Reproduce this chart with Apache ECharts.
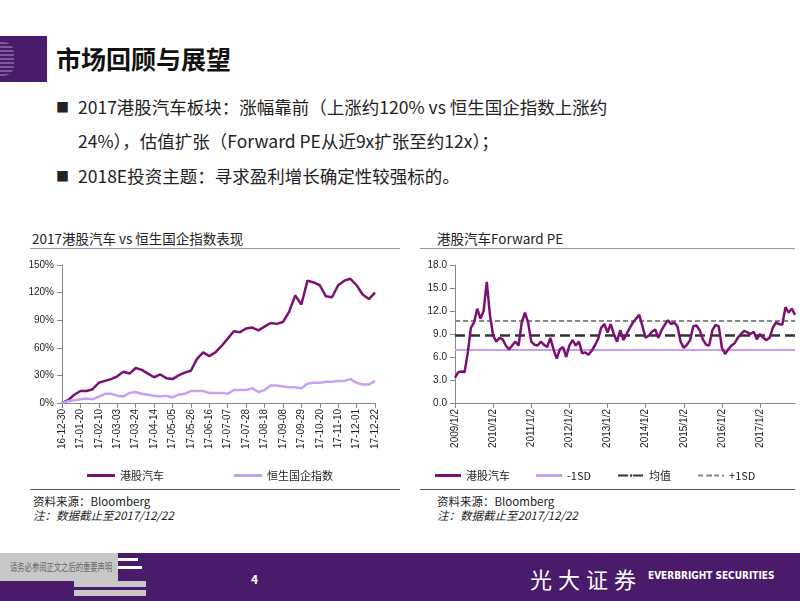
<!DOCTYPE html>
<html lang="zh-CN">
<head>
<meta charset="UTF-8">
<title>市场回顾与展望</title>
<style>
  body { margin:0; width:800px; height:601px; position:relative; overflow:hidden; background:#fff;
    font-family:"Noto Sans CJK SC","Noto Sans",sans-serif; color:#222; }
  .abs { position:absolute; }
  .title { left:56px; top:40px; font-size:25px; font-weight:bold; color:#111; }
  .bullet { left:78px; font-size:17.5px; line-height:34px; color:#222; }
  .bullet span.sq { position:absolute; left:-22px; top:0; font-size:13px; }
  .ctitle { font-size:13.5px; color:#222; }
  .rule { height:1px; background:#999; }
  .src { font-size:11.5px; color:#222; line-height:14px; }
  .footer { left:0; top:553px; width:800px; height:48px; background:#4a1a6b; }
</style>
<script src="https://cdn.jsdelivr.net/npm/echarts@6/dist/echarts.min.js"></script>
</head>
<body>
  <div class="abs" style="left:0;top:36px;width:47px;height:46px;background:#4a1a6b;"></div>
  <div class="abs" style="left:0;top:42px;width:14px;height:34px;background:repeating-linear-gradient(#7a5a98 0 2px,#4a1a6b 2px 4px);border-radius:0 10px 10px 0;"></div>
  <div class="abs title">市场回顾与展望</div>

  <div class="abs bullet" style="top:90px;width:690px;"><span class="sq">■</span>2017港股汽车板块：涨幅靠前（上涨约120% vs 恒生国企指数上涨约<br>24%），估值扩张（Forward PE从近9x扩张至约12x）；</div>
  <div class="abs bullet" style="top:159px;"><span class="sq">■</span>2018E投资主题：寻求盈利增长确定性较强标的。</div>

  <div class="abs ctitle" style="left:32px;top:228px;">2017港股汽车 vs 恒生国企指数表现</div>
  <div class="abs rule" style="left:30px;top:248px;width:370px;"></div>
  <div class="abs ctitle" style="left:437px;top:228px;">港股汽车Forward PE</div>
  <div class="abs rule" style="left:420px;top:248px;width:375px;"></div>

  <div id="left" class="abs" style="left:20px;top:255px;width:380px;height:235px;"></div>
  <div id="right" class="abs" style="left:410px;top:255px;width:390px;height:235px;"></div>

  <div class="abs rule" style="left:30px;top:489px;width:370px;background:#555;"></div>
  <div class="abs rule" style="left:420px;top:489px;width:375px;background:#555;"></div>
  <div class="abs src" style="left:33px;top:494px;">资料来源：Bloomberg<br><i>注：数据截止至2017/12/22</i></div>
  <div class="abs src" style="left:437px;top:494px;">资料来源：Bloomberg<br><i>注：数据截止至2017/12/22</i></div>

  <div class="abs footer"></div>
  <div class="abs" style="left:0;top:553px;width:118px;height:28px;background:#c8c8c8;"></div>
  <div class="abs" style="left:118px;top:558px;width:20px;height:3px;background:#fff;"></div>
  <div class="abs" style="left:118px;top:566px;width:24px;height:3px;background:#fff;"></div>
  <div class="abs" style="left:74px;top:581px;width:72px;height:6px;background:#c8c8c8;"></div>
  <div class="abs" style="left:74px;top:590px;width:72px;height:6px;background:#c8c8c8;"></div>
  <div class="abs" style="left:10px;top:559px;font-size:10px;color:#666;white-space:nowrap;transform:scaleX(0.73);transform-origin:left top;">请务必参阅正文之后的重要声明</div>
  <div class="abs" style="left:251px;top:570px;font-size:12px;color:#fff;font-weight:bold;">4</div>
  <div class="abs" style="left:530px;top:562px;font-size:22px;color:#fff;letter-spacing:6px;font-family:'Noto Sans CJK SC';">光大证券</div>
  <div class="abs" style="left:648px;top:570px;font-size:10px;color:#fff;font-weight:bold;font-family:'DejaVu Sans Condensed','DejaVu Sans';">EVERBRIGHT SECURITIES</div>

<script>
// 左图：2017 周度累计涨幅 (%)
var weeks = ['16-12-30','17-01-06','17-01-13','17-01-20','17-01-27','17-02-03','17-02-10','17-02-17','17-02-24',
  '17-03-03','17-03-10','17-03-17','17-03-24','17-03-31','17-04-07','17-04-14','17-04-21','17-04-28',
  '17-05-05','17-05-12','17-05-19','17-05-26','17-06-02','17-06-09','17-06-16','17-06-23','17-06-30',
  '17-07-07','17-07-14','17-07-21','17-07-28','17-08-04','17-08-11','17-08-18','17-08-25','17-09-01',
  '17-09-08','17-09-15','17-09-22','17-09-29','17-10-06','17-10-13','17-10-20','17-10-27','17-11-03',
  '17-11-10','17-11-17','17-11-24','17-12-01','17-12-08','17-12-15','17-12-22'];
var hkAuto = [0,3,9,13,13,15,22,24,26,29,34,32,38,36,32,28,31,27,26,30,33,35,48,55,51,55,62,70,78,77,
  81,82,79,83,87,86,88,99,117,107,133,131,128,116,115,128,133,135,128,118,113,120];
var hscei = [0,2,3,4,5,4,7,10,10,8,7,11,12,10,9,8,7,8,6,9,10,13,13,13,11,11,11,10,14,14,14,16,12,14,
  19,19,18,17,17,16,21,22,22,23,23,24,24,26,22,20,20,24];

// 右图：月度 Forward PE
var months = [];
for (var y = 2009; y <= 2017; y++) for (var m = 1; m <= 12; m++) months.push(y + '/' + m + '/2');
var pe = [
  3.3,4.0,4.1,4.0,6.5,9.8,10.5,12.3,11.0,12.0,15.8,11.5,
  8.8,8.0,8.5,8.3,7.5,7.0,7.5,8.0,7.5,10.5,11.8,10.5,
  8.0,7.6,7.5,8.0,7.6,7.3,8.5,7.0,5.8,7.0,7.3,6.0,
  7.5,8.2,7.5,8.0,6.5,6.6,6.3,6.8,7.5,8.3,9.8,10.3,
  9.2,10.3,9.0,8.0,9.5,8.2,9.0,9.8,10.5,11.0,11.5,10.0,
  8.5,8.8,9.3,9.6,8.5,9.5,10.2,10.8,10.3,10.5,10.0,8.0,
  7.2,7.6,8.2,10.0,10.1,9.5,8.3,7.6,7.5,9.5,10.2,10.0,
  7.2,6.4,7.0,7.5,7.8,8.5,9.0,9.4,9.2,9.0,9.3,8.3,
  9.0,8.5,8.2,8.5,9.8,10.5,10.3,10.2,12.5,11.8,12.3,11.5];
var peMean = 8.8, peLow = 6.9, peHigh = 10.7;

var axisFont = { fontFamily: 'Liberation Sans, Arial', fontSize: 10, color: '#222' };
var legendFont = { fontFamily: 'Noto Sans CJK SC', fontSize: 11, color: '#222' };

var left = echarts.init(document.getElementById('left'));
left.setOption({
  animation: false,
  grid: { left: 42, right: 25, top: 10, bottom: 87 },
  legend: { bottom: 4, itemGap: 70, itemWidth: 28, itemHeight: 3, icon: 'rect', textStyle: legendFont,
    data: ['港股汽车', '恒生国企指数'] },
  xAxis: { type: 'category', data: weeks, boundaryGap: false,
    axisLine: { lineStyle: { color: '#888' } }, axisTick: { interval: 2, lineStyle: { color: '#888' } },
    axisLabel: Object.assign({ rotate: 90, interval: 2, margin: 6 }, axisFont) },
  yAxis: { type: 'value', min: 0, max: 150, interval: 30,
    axisLine: { show: true, lineStyle: { color: '#888' } }, axisTick: { show: true, lineStyle: { color: '#888' } },
    splitLine: { show: false }, axisLabel: Object.assign({ formatter: '{value}%' }, axisFont) },
  series: [
    { name: '港股汽车', type: 'line', data: hkAuto, symbol: 'none', lineStyle: { width: 2.5, color: '#7b1173' }, itemStyle: { color: '#7b1173' } },
    { name: '恒生国企指数', type: 'line', data: hscei, symbol: 'none', lineStyle: { width: 2.5, color: '#c9a0f0' }, itemStyle: { color: '#c9a0f0' } }
  ]
});

function flat(v) { return months.map(function () { return v; }); }
var right = echarts.init(document.getElementById('right'));
right.setOption({
  animation: false,
  grid: { left: 45, right: 5, top: 10, bottom: 87 },
  legend: { bottom: 4, left: 20, itemGap: 26, itemWidth: 26, itemHeight: 3, textStyle: legendFont,
    data: [{ name: '港股汽车', icon: 'rect' }, { name: '-1SD', icon: 'rect' }, { name: '均值' }, { name: '+1SD' }] },
  xAxis: { type: 'category', data: months, boundaryGap: false,
    axisLine: { lineStyle: { color: '#888' } }, axisTick: { interval: 11, lineStyle: { color: '#888' } },
    axisLabel: Object.assign({ rotate: 90, interval: 11, margin: 6 }, axisFont) },
  yAxis: { type: 'value', min: 0, max: 18, interval: 3,
    axisLine: { show: true, lineStyle: { color: '#888' } }, axisTick: { show: true, lineStyle: { color: '#888' } },
    splitLine: { show: false }, axisLabel: Object.assign({ formatter: function (v) { return v.toFixed(1); } }, axisFont) },
  series: [
    { name: '-1SD', type: 'line', data: flat(peLow), symbol: 'none', lineStyle: { width: 2, color: '#c9a0f0' }, itemStyle: { color: '#c9a0f0' } },
    { name: '均值', type: 'line', data: flat(peMean), symbol: 'none', lineStyle: { width: 2.5, color: '#333', type: [10, 5] }, itemStyle: { color: '#333' } },
    { name: '+1SD', type: 'line', data: flat(peHigh), symbol: 'none', lineStyle: { width: 2, color: '#888', type: [5, 3] }, itemStyle: { color: '#888' } },
    { name: '港股汽车', type: 'line', data: pe, symbol: 'none', lineStyle: { width: 2.5, color: '#7b1173' }, itemStyle: { color: '#7b1173' } }
  ]
});
</script>
</body>
</html>
